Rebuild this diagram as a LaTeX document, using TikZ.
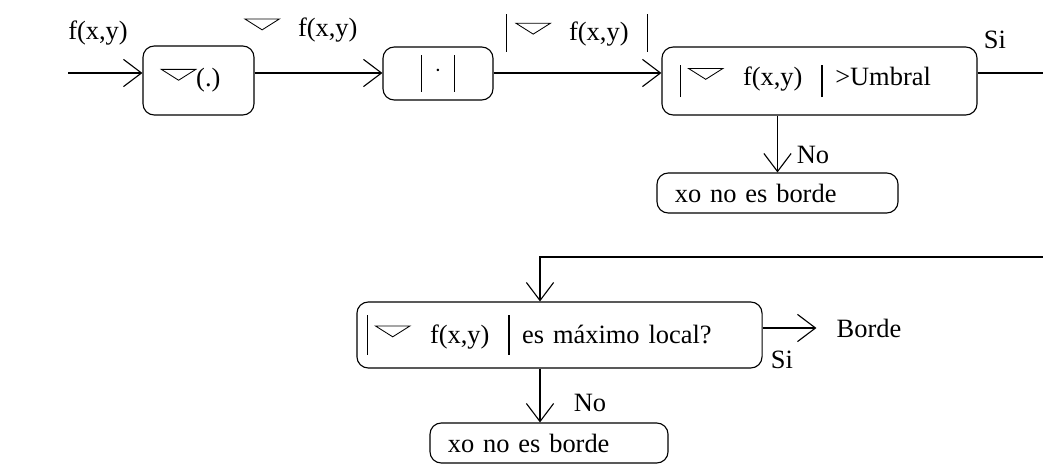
\documentclass[tikz,border=0pt]{standalone}
\usepackage{fontspec}
\setmainfont{Liberation Serif}
\usetikzlibrary{arrows.meta}

\newcommand{\gradiente}{\tikz[baseline=0pt,x=1em,y=1em,sharp corners]\draw[line width=0.6pt] (0,0.66) -- (1.3,0.66) -- (0.65,0.25) -- cycle;}
\newcommand{\barra}[2]{\rule[-#2]{0.8pt}{\dimexpr#1+#2\relax}}

\tikzset{
	caja/.style={draw, rounded corners=8pt, line width=0.8pt, inner xsep=0.45cm, inner ysep=0pt, align=left},
	flecha/.style={-{Straight Barb[length=4.5mm,width=6.8mm]}, line width=0.8pt},
	linea/.style={line width=0.8pt},
}

\begin{document}
\begin{tikzpicture}[x=0.025cm, y=-0.025cm, font=\fontsize{18.8}{22}\selectfont]
			\useasboundingbox (0,0) rectangle (1043,465);
			
			\node[caja, text width=1.875cm, minimum height=1.725cm] (c1) at (198.5,80.5) {\gradiente(.)};
			\node[caja, text width=1.85cm, minimum height=1.325cm, align=center] (c2) at (438,73.5) {\barra{15pt}{11pt}\hspace{9pt}$\cdot$\hspace{9pt}\barra{15pt}{11pt}};
			\node[caja, text width=6.975cm, minimum height=1.7cm] (c3) at (819.5,81) {\barra{15pt}{8pt}\hspace{5pt}\gradiente\hspace{14pt}f(x,y)\hspace{13.5pt}\barra{15pt}{8pt}\hspace{9pt}>Umbral};
			\node[caja, text width=5.125cm, minimum height=1cm] (xo1) at (777.5,193) {xo no es borde};
			\node[caja, inner xsep=0.25cm, text width=9.625cm, minimum height=1.65cm] (c4) at (559.5,335) {\barra{20pt}{8pt}\hspace{5pt}\gradiente\hspace{14pt}f(x,y)\hspace{13.5pt}\barra{20pt}{8pt}\hspace{9pt}es máximo local?};
			\node[caja, text width=5.05cm, minimum height=1cm] (xo2) at (549,443) {xo no es borde};
			
			\node (lf1) at (98,33) {f(x,y)};
			\node (lf2) at (301,30) {\gradiente\hspace{13pt}f(x,y)};
			\node (lf3) at (577,33) {\barra{19pt}{8pt}\hspace{6pt}\gradiente\hspace{13pt}f(x,y)\hspace{13pt}\barra{19pt}{8pt}};
			\node (si1) at (995,40) {Si};
			\node (nol1) at (813,155) {No};
			\node[inner xsep=0.5cm] (borde) at (869,328) {Borde};
			\node (si2) at (782,360) {Si};
			\node (nol2) at (590,403) {No};
			
			\coordinate (ent) at (68,73);
			\coordinate (sal) at (1043,73);
			\coordinate (ret) at (1043,257);
			\coordinate (codo) at (540,257);
			
			\draw[flecha] (ent) -- (c1.west |- ent);
			\draw[flecha] (c1.east |- ent) -- (c2.west |- ent);
			\draw[flecha] (c2.east |- ent) -- (c3.west |- ent);
			\draw[linea] (c3.east |- ent) -- (sal);
			\draw[flecha] (xo1.north |- c3.south) -- (xo1.north);
			\draw[flecha] (ret) -- (codo) -- (codo |- c4.north);
			\draw[flecha] (c4.east |- borde.west) -- (borde.west);
			\draw[flecha] (codo |- c4.south) -- (codo |- xo2.north);
		\end{tikzpicture}
\end{document}
